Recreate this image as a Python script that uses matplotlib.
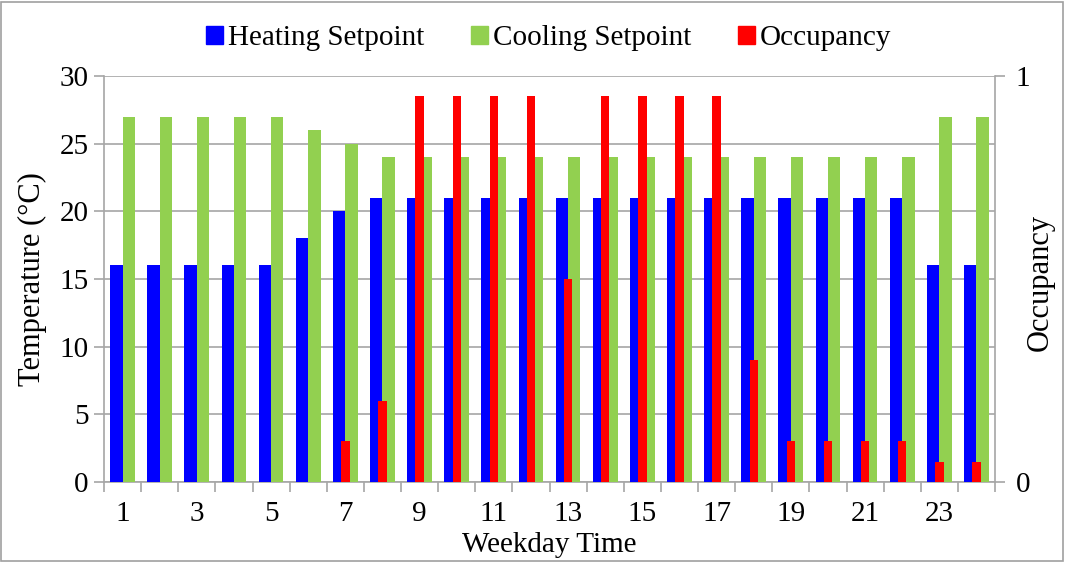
import matplotlib
matplotlib.use('Agg')
import matplotlib.pyplot as plt
import matplotlib.patches as mpatches
import numpy as np

plt.rcParams['font.family'] = ['Liberation Serif', 'DejaVu Serif']

# data
hours = list(range(1, 25))
heating = [16, 16, 16, 16, 16, 18, 20, 21, 21, 21, 21, 21,
           21, 21, 21, 21, 21, 21, 21, 21, 21, 21, 16, 16]
cooling = [27, 27, 27, 27, 27, 26, 25, 24, 24, 24, 24, 24,
           24, 24, 24, 24, 24, 24, 24, 24, 24, 24, 27, 27]
occupancy = [0, 0, 0, 0, 0, 0, 0.1, 0.2, 0.95, 0.95, 0.95, 0.95,
             0.5, 0.95, 0.95, 0.95, 0.95, 0.3, 0.1, 0.1, 0.1, 0.1, 0.05, 0.05]

BLUE = '#0000FF'
GREEN = '#92D050'
RED = '#FF0000'
GRID = '#A6A6A6'
FS = 21

fig = plt.figure(figsize=(10.65, 5.62), dpi=100)
fig.patch.set_facecolor('white')
# outer frame
fig.add_artist(mpatches.Rectangle((0.001, 0.002), 0.997, 0.995, transform=fig.transFigure,
                                  fill=False, edgecolor='#A0A0A0', linewidth=1.2))

ax = fig.add_axes([0.0977, 0.1423, 0.8366, 0.7225])
x = np.arange(len(hours))
w = 1 / 3
ax.bar(x - w / 2, heating, width=w, color=BLUE, zorder=3)
ax.bar(x + w / 2, cooling, width=w, color=GREEN, zorder=3)

ax.set_xlim(-0.5, len(hours) - 0.5)
ax.set_ylim(0, 30)
ax.set_yticks(range(0, 31, 5))
ax.yaxis.grid(True, color=GRID, linewidth=1.2, zorder=0)
ax.set_axisbelow(True)

ax.set_xticks(x[::2])
ax.set_xticklabels([str(h) for h in hours[::2]])
ax.set_xticks(np.arange(-0.5, len(hours), 1), minor=True)
ax.tick_params(axis='x', which='major', length=0, pad=14, labelsize=FS)
ax.tick_params(axis='x', which='minor', length=7, color=GRID, width=1.2)
ax.tick_params(axis='y', length=7, color=GRID, width=1.2, labelsize=FS, pad=4)

for s in ['top', 'right']:
    ax.spines[s].set_visible(False)
for s in ['left', 'bottom']:
    ax.spines[s].set_color(GRID)
    ax.spines[s].set_linewidth(1.2)

ax.set_xlabel('Weekday Time', fontsize=FS, labelpad=3)
ax.set_ylabel('Temperature (°C)', fontsize=FS + 1, labelpad=9)

ax2 = ax.twinx()
ax2.bar(x, occupancy, width=0.225, color=RED, zorder=4)
ax2.set_ylim(0, 1)
ax2.set_yticks([0, 1])
ax2.tick_params(axis='y', length=7, color=GRID, width=1.2, labelsize=FS, pad=8)
for s in ['top', 'left', 'bottom']:
    ax2.spines[s].set_visible(False)
ax2.spines['right'].set_color(GRID)
ax2.spines['right'].set_linewidth(1.2)
fig.text(0.9765, 0.498, 'Occupancy', rotation=90, ha='center', va='center', fontsize=FS + 1)

handles = [mpatches.Patch(color=BLUE, label='Heating Setpoint'),
           mpatches.Patch(color=GREEN, label='Cooling Setpoint'),
           mpatches.Patch(color=RED, label='Occupancy')]
fig.legend(handles=handles, loc='center', bbox_to_anchor=(0.515, 0.932), ncol=3,
           frameon=False, fontsize=FS, handlelength=0.6, handleheight=0.6,
           handletextpad=0.15, columnspacing=1.6)

plt.savefig('out.png', dpi=100)
plt.close()
